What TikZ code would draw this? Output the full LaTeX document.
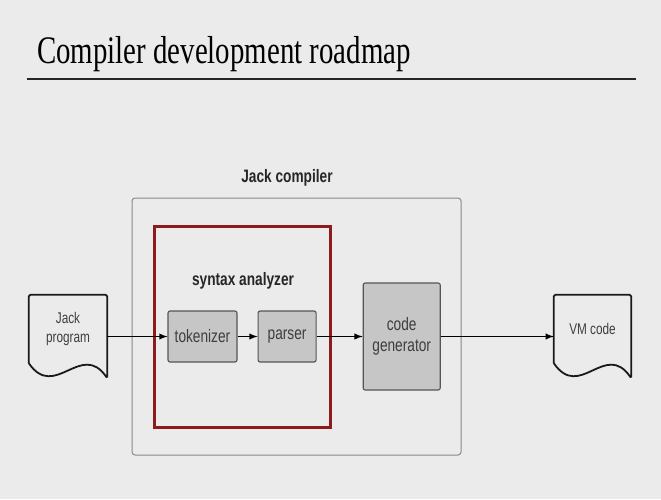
\documentclass[tikz,border=0pt]{standalone}
\usepackage{fontspec}
\usepackage{tikz}
\usetikzlibrary{positioning, arrows}
\newfontfamily\titlefont[FakeStretch=0.74]{Liberation Serif}
\newfontfamily\diagfont[FakeStretch=0.76]{Liberation Sans}
\definecolor{slidebg}{HTML}{EBEBEB}
\definecolor{boxfill}{HTML}{C6C6C6}
\definecolor{boxline}{HTML}{555555}
\definecolor{frameline}{HTML}{8A8A8A}
\definecolor{analyzerred}{HTML}{8E1B1B}
\definecolor{labelgray}{HTML}{3E3E3E}
\tikzset{
    >=latex, % filled arrow heads
    flow/.style={->, line width=1.8pt, black}, % the data flow arrows
    stagebox/.style={draw=boxline, fill=boxfill, rounded corners=2pt, inner sep=0pt, line width=1.1pt,
        text=labelgray, align=center, font=\diagfont\fontsize{18}{21}\selectfont}, % compiler stages
    docfile/.style={inner sep=0pt, text=labelgray, align=center, font=\diagfont\fontsize{15.5}{19}\selectfont}, % files
    docline/.style={line width=1.8pt, black!90, rounded corners=1.5pt}, % outline of a file
    heading/.style={font=\diagfont\bfseries\fontsize{18}{21}\selectfont, text=black!85}, % box titles
}
% outline of a file with a wavy bottom
\newcommand\docoutline[1]{%
    \draw[docline] (#1.south west) -- (#1.north west) -- (#1.north east) -- ([yshift=-15pt]#1.south east)
        .. controls +(-26,-38) and +(26,38) .. (#1.south west);}

\begin{document}
\begin{tikzpicture}[x=1pt, y=-1pt]
    \fill[slidebg] (0,0) rectangle (661,499);
    \useasboundingbox (0,0) rectangle (661,499);
    % title
    \node[anchor=base west, inner sep=0pt, font=\titlefont\fontsize{39}{44}\selectfont] (title) at (37,63) {Compiler development roadmap};
    \draw[line width=2pt, black!85] (27,79) -- (636,79);
    % boxes
    \node[draw=frameline, line width=1pt, rounded corners=3pt, minimum width=329pt, minimum height=257pt] (compiler) at (296.5,326.5) {};
    \node[heading, anchor=base] (compilerlabel) at (287,182.5) {Jack compiler};
    \node[draw=analyzerred, line width=3pt, minimum width=176pt, minimum height=201pt] (analyzer) at (242,326.5) {};
    \node[heading, anchor=base] (analyzerlabel) at (243,285.5) {syntax analyzer};
    \node[stagebox, minimum width=69pt, minimum height=51pt] (tok) at (202.5,336.5) {tokenizer};
    \node[stagebox, minimum width=58pt, minimum height=51pt, right=20pt of tok] (parser) {parser};
    \node[stagebox, minimum width=77pt, minimum height=107pt, right=46pt of parser] (codegen) {code\\generator};
    % files
    \node[docfile, minimum width=78pt, minimum height=68pt] (jack) at (68,329) {Jack\\program};
    \node[docfile, minimum width=77pt, minimum height=68pt] (vm) at (592.5,329) {VM code};
    \docoutline{jack}
    \docoutline{vm}
    % arrows
    \draw[flow] (jack.east |- tok.west) -- (tok.west);
    \draw[flow] (tok) -- (parser);
    \draw[flow] (parser) -- (codegen);
    \draw[flow] (codegen.east) -- (vm.west |- codegen.east);
\end{tikzpicture}
\end{document}
